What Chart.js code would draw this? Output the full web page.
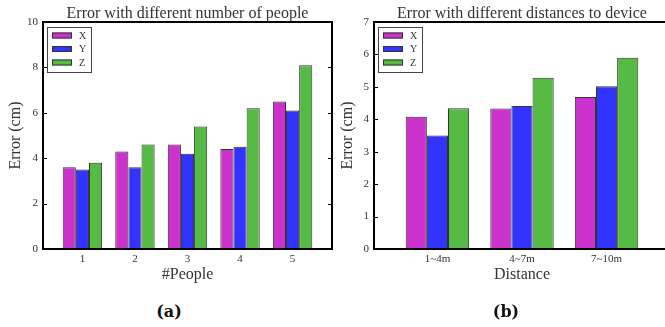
<!DOCTYPE html>
<html>
<head>
<meta charset="utf-8">
<script src="https://cdn.jsdelivr.net/npm/chart.js@4.4.1/dist/chart.umd.min.js"></script>
<style>
  html, body { margin: 0; padding: 0; background: #fff; overflow: hidden; }
  body { width: 665px; height: 327px; position: relative; }
  .box { position: absolute; top: 0; height: 290px; }
  .cap { position: absolute; top: 302px; line-height: 20px; font: bold 16px "DejaVu Serif", serif; color: #111; transform: translateX(-50%); }
</style>
</head>
<body>
<div class="box" style="left:0;width:335px"><canvas id="peopleChart" width="335" height="290"></canvas></div>
<div class="box" style="left:332px;width:340px"><canvas id="distChart" width="340" height="290"></canvas></div>
<div class="cap" style="left:169px">(a)</div>
<div class="cap" style="left:506px">(b)</div>
<script>
// data
const peopleLabels = ['1', '2', '3', '4', '5'];
const peopleX = [3.6, 4.3, 4.6, 4.4, 6.5];
const peopleY = [3.5, 3.6, 4.2, 4.5, 6.1];
const peopleZ = [3.8, 4.6, 5.4, 6.2, 8.1];

const distLabels = ['1~4m', '4~7m', '7~10m'];
const distX = [4.08, 4.33, 4.69];
const distY = [3.50, 4.41, 5.02];
const distZ = [4.34, 5.28, 5.90];

const seriesNames = ['X', 'Y', 'Z'];
const seriesColors = ['#cc33cc', '#3333ff', '#55bb44'];

const FONT = '"Liberation Serif", "Times New Roman", serif';
const TXT = '#333';

// frame, inward ticks and legend like the matplotlib original
const framePlugin = {
  id: 'frame',
  afterDatasetsDraw(chart) {
    const { ctx, chartArea: a, scales: { y } } = chart;
    ctx.save();
    ctx.strokeStyle = '#000';
    ctx.lineWidth = 1;
    y.ticks.forEach(t => {
      const py = Math.round(y.getPixelForValue(t.value)) + 0.5;
      ctx.beginPath();
      ctx.moveTo(a.left, py); ctx.lineTo(a.left + 4, py);
      ctx.moveTo(a.right, py); ctx.lineTo(a.right - 4, py);
      ctx.stroke();
    });
    ctx.lineWidth = 2;
    ctx.strokeRect(a.left, a.top, a.right - a.left, a.bottom - a.top);

    // legend
    const bx = a.left + 4, by = a.top + 5;
    ctx.fillStyle = '#fff';
    ctx.fillRect(bx, by, 44, 45);
    ctx.lineWidth = 1;
    ctx.strokeStyle = '#444';
    ctx.strokeRect(bx + 0.5, by + 0.5, 44, 45);
    ctx.font = '10px ' + FONT;
    ctx.textBaseline = 'middle';
    chart.data.datasets.forEach((ds, i) => {
      const ry = by + 5.5 + i * 13.5;
      ctx.fillStyle = ds.backgroundColor;
      ctx.fillRect(bx + 5, ry, 20, 6);
      ctx.strokeStyle = '#333';
      ctx.strokeRect(bx + 5.5, ry + 0.5, 19, 5);
      ctx.fillStyle = TXT;
      ctx.fillText(ds.label, bx + 32, ry + 3.5);
    });
    ctx.restore();
  }
};

function makeChart(id, labels, series, yMax, yStep, title, xTitle, leftW, padRight) {
  const datasets = series.map((vals, i) => ({
    label: seriesNames[i],
    data: vals.map((v, k) => ({ x: k + 1, y: v })),
    backgroundColor: seriesColors[i],
    borderColor: '#333',
    borderWidth: 1,
    categoryPercentage: 0.75,
    barPercentage: 1.0
  }));
  return new Chart(document.getElementById(id).getContext('2d'), {
    type: 'bar',
    data: { datasets },
    options: {
      responsive: false,
      animation: false,
      layout: { padding: { left: 0, right: padRight, top: 0, bottom: 0 } },
      plugins: {
        legend: { display: false },
        tooltip: { enabled: false },
        title: {
          display: true, text: title, fullSize: false, color: TXT,
          font: { family: FONT, size: 16, weight: 'normal', lineHeight: 1 },
          padding: { top: 6, bottom: 0 }
        }
      },
      scales: {
        x: {
          type: 'linear', offset: false,
          min: 0.25, max: labels.length + 0.75,
          grid: { display: false, drawTicks: false, offset: false },
          border: { display: false },
          afterBuildTicks: (ax) => { ax.ticks = labels.map((l, i) => ({ value: i + 1 })); },
          afterFit: (ax) => { ax.height = 41; },
          ticks: {
            color: TXT, padding: 4, autoSkip: false, maxRotation: 0,
            font: { family: FONT, size: 11 },
            callback: (v) => labels[v - 1]
          },
          title: {
            display: true, text: xTitle, color: TXT,
            font: { family: FONT, size: 16, lineHeight: 1.2 },
            padding: { top: 0, bottom: 6 }
          }
        },
        y: {
          min: 0, max: yMax,
          grid: { display: false, drawTicks: false },
          border: { display: false },
          afterFit: (ax) => { ax.width = leftW; },
          ticks: { stepSize: yStep, color: TXT, padding: 5, font: { family: FONT, size: 11 } },
          title: {
            display: true, text: 'Error (cm)', color: TXT,
            font: { family: FONT, size: 16, lineHeight: 1.2 },
            padding: { top: 6, bottom: 0 }
          }
        }
      }
    },
    plugins: [framePlugin]
  });
}

makeChart('peopleChart', peopleLabels, [peopleX, peopleY, peopleZ], 10, 2,
  'Error with different number of people', '#People', 43, 3);
makeChart('distChart', distLabels, [distX, distY, distZ], 7, 1,
  'Error with different distances to device', 'Distance', 42, 2);
</script>
</body>
</html>
